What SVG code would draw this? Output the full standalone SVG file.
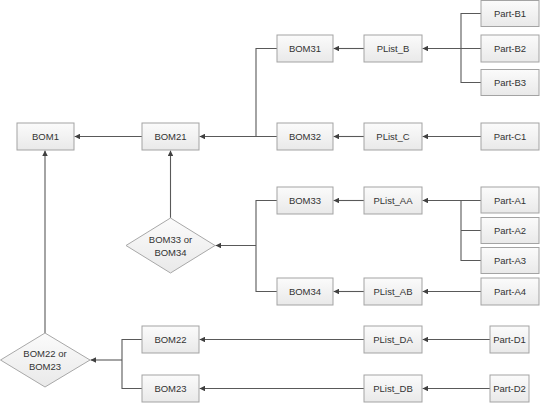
<svg xmlns="http://www.w3.org/2000/svg" width="540" height="403" viewBox="0 0 540 403">
<defs>
<linearGradient id="g" x1="0" y1="0" x2="0" y2="1">
<stop offset="0" stop-color="#fbfbfb"/>
<stop offset="1" stop-color="#e9e9e9"/>
</linearGradient>
<marker id="ah" viewBox="0 0 10 10" refX="10" refY="5" markerWidth="5.5" markerHeight="5.5" markerUnits="userSpaceOnUse" orient="auto">
<path d="M0,0 L10,5 L0,10 Z" fill="#404040"/>
</marker>
</defs>
<style>
.box{fill:url(#g);stroke:#a3a3a3;stroke-width:1}
.dia{fill:url(#g);stroke:#a8a8a8;stroke-width:1}
text{font-family:"Liberation Sans",Arial,sans-serif;font-size:9.5px;fill:#333;text-anchor:middle;dominant-baseline:central}
.c path{fill:none;stroke:#595959;stroke-width:1.1}
.c .a{marker-end:url(#ah)}
</style>
<rect width="540" height="403" fill="#fff"/>
<g class="c" id="connectors">
<path class="a" d="M142,136.5 H74.5"/>
<path class="a" d="M45,333 V150.5"/>
<path d="M277,48.5 H256 V136.5"/>
<path class="a" d="M277,136.5 H199.5"/>
<path class="a" d="M170.5,218 V150.5"/>
<path class="a" d="M364,48.5 H333.5"/>
<path d="M481,13.5 H461 V82.5 H481"/>
<path class="a" d="M481,48.5 H422.5"/>
<path class="a" d="M364,136.5 H333.5"/>
<path class="a" d="M481,136.5 H422.5"/>
<path class="a" d="M364,200.5 H333.5"/>
<path d="M481,230.5 H461 V200.5 M481,260.5 H461 V230.5"/>
<path class="a" d="M481,200.5 H422.5"/>
<path d="M277,200.5 H256 V291.5 H277"/>
<path class="a" d="M256,245.5 H215.5"/>
<path class="a" d="M364,291.5 H333.5"/>
<path class="a" d="M481,291.5 H422.5"/>
<path class="a" d="M364,339.5 H199.5"/>
<path class="a" d="M490,339.5 H422.5"/>
<path class="a" d="M364,388.5 H199.5"/>
<path class="a" d="M490,388.5 H422.5"/>
<path d="M142,339.5 H122 V388.5 H142"/>
<path class="a" d="M122,360 H90.5"/>
</g>
<g id="BOM1"><rect class="box" x="17" y="123" width="57" height="27"/><text x="45.5" y="136.5">BOM1</text></g>
<g id="BOM21"><rect class="box" x="142" y="123" width="57" height="27"/><text x="170.5" y="136.5">BOM21</text></g>
<g id="BOM22"><rect class="box" x="142" y="326" width="57" height="27"/><text x="170.5" y="339.5">BOM22</text></g>
<g id="BOM23"><rect class="box" x="142" y="375" width="57" height="27"/><text x="170.5" y="388.5">BOM23</text></g>
<g id="BOM31"><rect class="box" x="277" y="35" width="56" height="27"/><text x="305" y="48.5">BOM31</text></g>
<g id="BOM32"><rect class="box" x="277" y="123" width="56" height="27"/><text x="305" y="136.5">BOM32</text></g>
<g id="BOM33"><rect class="box" x="277" y="187" width="56" height="27"/><text x="305" y="200.5">BOM33</text></g>
<g id="BOM34"><rect class="box" x="277" y="278" width="56" height="27"/><text x="305" y="291.5">BOM34</text></g>
<g id="PList_B"><rect class="box" x="364" y="35" width="58" height="27"/><text x="393" y="48.5">PList_B</text></g>
<g id="PList_C"><rect class="box" x="364" y="123" width="58" height="27"/><text x="393" y="136.5">PList_C</text></g>
<g id="PList_AA"><rect class="box" x="364" y="187" width="58" height="27"/><text x="393" y="200.5">PList_AA</text></g>
<g id="PList_AB"><rect class="box" x="364" y="278" width="58" height="27"/><text x="393" y="291.5">PList_AB</text></g>
<g id="PList_DA"><rect class="box" x="364" y="326" width="58" height="27"/><text x="393" y="339.5">PList_DA</text></g>
<g id="PList_DB"><rect class="box" x="364" y="375" width="58" height="27"/><text x="393" y="388.5">PList_DB</text></g>
<g id="Part-B1"><rect class="box" x="481" y="0.5" width="58" height="26"/><text x="510" y="13.5">Part-B1</text></g>
<g id="Part-B2"><rect class="box" x="481" y="35" width="58" height="27"/><text x="510" y="48.5">Part-B2</text></g>
<g id="Part-B3"><rect class="box" x="481" y="69.5" width="58" height="26"/><text x="510" y="82.5">Part-B3</text></g>
<g id="Part-C1"><rect class="box" x="481" y="123" width="58" height="27"/><text x="510" y="136.5">Part-C1</text></g>
<g id="Part-A1"><rect class="box" x="481" y="187" width="58" height="26"/><text x="510" y="200">Part-A1</text></g>
<g id="Part-A2"><rect class="box" x="481" y="217.5" width="58" height="26"/><text x="510" y="230.5">Part-A2</text></g>
<g id="Part-A3"><rect class="box" x="481" y="247.5" width="58" height="26"/><text x="510" y="260.5">Part-A3</text></g>
<g id="Part-A4"><rect class="box" x="481" y="278" width="58" height="27"/><text x="510" y="291.5">Part-A4</text></g>
<g id="Part-D1"><rect class="box" x="490" y="326" width="39" height="27"/><text x="509.5" y="339.5">Part-D1</text></g>
<g id="Part-D2"><rect class="box" x="490" y="375" width="39" height="27"/><text x="509.5" y="388.5">Part-D2</text></g>
<g id="BOM33orBOM34"><path class="dia" d="M170.5,218 L215,245.5 L170.5,273 L126,245.5 Z"/><text x="170.5" y="239">BOM33 or</text><text x="170.5" y="252">BOM34</text></g>
<g id="BOM22orBOM23"><path class="dia" d="M45,333 L90,360 L45,387 L0.5,360 Z"/><text x="45" y="353.5">BOM22 or</text><text x="45" y="366.5">BOM23</text></g>
</svg>
